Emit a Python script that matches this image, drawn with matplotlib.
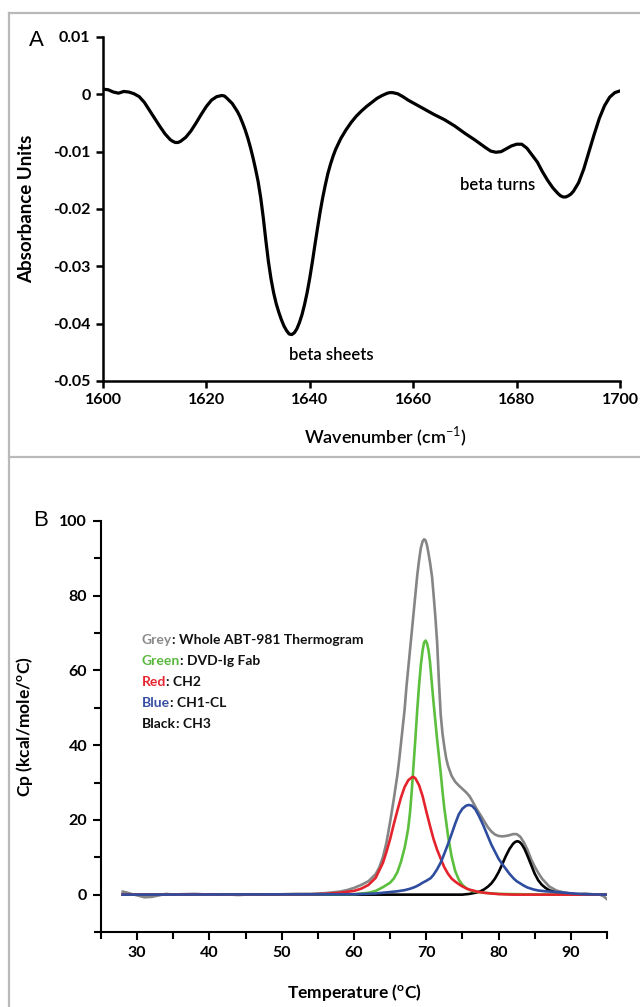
import matplotlib

matplotlib.use("Agg")

import matplotlib.pyplot as plt
from matplotlib.lines import Line2D
from matplotlib.ticker import MultipleLocator

plt.rcParams["font.family"] = ["Lato", "DejaVu Sans"]
plt.rcParams["mathtext.fontset"] = "custom"
plt.rcParams["mathtext.rm"] = "Lato"
plt.rcParams["mathtext.bf"] = "Lato:bold"

# FTIR spectrum (panel A)
wavenumber = [
    1600, 1601, 1602, 1603, 1604, 1605, 1606, 1607, 1608, 1609,
    1610, 1611, 1612, 1613, 1613.5, 1614, 1614.5, 1615, 1616, 1617,
    1618, 1619, 1620, 1621, 1622, 1622.5, 1623, 1623.5, 1624, 1625,
    1626, 1626.5, 1627, 1627.5, 1628, 1628.5, 1629, 1629.5, 1630, 1630.5,
    1631, 1631.5, 1632, 1632.5, 1633, 1633.5, 1634, 1634.5, 1635, 1635.5,
    1636, 1636.5, 1637, 1637.5, 1638, 1638.5, 1639, 1639.5, 1640, 1640.5,
    1641, 1641.5, 1642, 1642.5, 1643, 1643.5, 1644, 1644.5, 1645, 1646,
    1647, 1648, 1649, 1650, 1651, 1652, 1653, 1654, 1655, 1655.5,
    1656, 1657, 1658, 1659, 1660, 1662, 1664, 1666, 1668, 1670,
    1672, 1674, 1675, 1676, 1677, 1678, 1679, 1680, 1681, 1682,
    1683, 1684, 1685, 1686, 1687, 1688, 1688.5, 1689, 1689.5, 1690,
    1690.5, 1691, 1692, 1693, 1694, 1695, 1696, 1697, 1698, 1699,
    1700,
]
absorbance = [
    0.0009, 0.0008, 0.0004, 0.0002, 0.0005, 0.0004, 0.0001, -0.0004, -0.0014, -0.0028,
    -0.0042, -0.0056, -0.0069, -0.0079, -0.0082, -0.0084, -0.0084, -0.0082, -0.0075, -0.0064,
    -0.0050, -0.0035, -0.0021, -0.0010, -0.0004, -0.0003, -0.0002, -0.0003, -0.0007, -0.0016,
    -0.0030, -0.0039, -0.0050, -0.0062, -0.0076, -0.0092, -0.0110, -0.0130, -0.0152, -0.0180,
    -0.0215, -0.0255, -0.0292, -0.0322, -0.0346, -0.0365, -0.0380, -0.0393, -0.0404, -0.0412,
    -0.0418, -0.0419, -0.0416, -0.0409, -0.0398, -0.0384, -0.0366, -0.0345, -0.0320, -0.0292,
    -0.0262, -0.0233, -0.0205, -0.0180, -0.0158, -0.0138, -0.0122, -0.0108, -0.0096, -0.0077,
    -0.0062, -0.0049, -0.0038, -0.0029, -0.0021, -0.0014, -0.0007, -0.0002, 0.0002, 0.0003,
    0.0003, 0.0001, -0.0004, -0.0010, -0.0015, -0.0025, -0.0035, -0.0044, -0.0055, -0.0068,
    -0.0080, -0.0093, -0.0099, -0.0101, -0.0100, -0.0095, -0.0090, -0.0087, -0.0087, -0.0094,
    -0.0106, -0.0118, -0.0135, -0.0150, -0.0163, -0.0173, -0.0177, -0.0179, -0.0179, -0.0177,
    -0.0174, -0.0169, -0.0154, -0.0130, -0.0100, -0.0070, -0.0042, -0.0020, -0.0005, 0.0003,
    0.0006,
]

# DSC thermogram and its fitted transitions (panel B)
temp_whole = [
    28, 28.5, 29, 30, 31, 32, 33, 34, 35, 36, 38, 40, 42, 44, 46, 48, 50, 52, 54, 56,
    58, 59, 60, 61, 62, 63, 63.5, 64, 64.5, 65, 65.5, 66, 66.25, 66.5, 66.75, 67,
    67.25, 67.5, 67.75, 68, 68.25, 68.5, 68.75, 69, 69.25, 69.5, 69.7, 69.9, 70.1, 70.3,
    70.55, 70.8, 71, 71.25, 71.5, 71.75, 72, 72.25, 72.5, 72.75, 73, 73.5, 74, 74.5,
    75, 75.5, 76, 76.5, 77, 77.5, 78, 78.5, 79, 79.5, 80, 80.5, 81, 81.5, 82, 82.5,
    83, 83.5, 84, 84.5, 85, 85.5, 86, 87, 88, 89, 90, 91, 92, 93, 94, 94.5, 95,
]
cp_whole = [
    0.8, 0.6, 0.3, -0.2, -0.7, -0.6, -0.2, 0.2, 0.0, 0.1, 0.2, 0.0, 0.1, -0.1, 0.1, 0.0, 0.1, 0.2, 0.2, 0.4,
    0.8, 1.2, 1.8, 2.6, 3.6, 5.5, 7.3, 10.0, 14.0, 19.5, 25.5, 32.0, 36.0, 40.5, 45.0, 49.5,
    55.5, 60.5, 65.5, 70.5, 75.5, 80.5, 85.5, 89.5, 92.8, 94.6, 95.1, 94.8, 93.5, 91.4,
    88.5, 85.0, 80.5, 74.5, 67.5, 57.0, 48.0, 43.0, 39.5, 36.5, 34.5, 31.8, 30.2, 29.2,
    28.3, 27.4, 26.3, 24.6, 22.8, 21.3, 19.7, 18.1, 16.9, 16.1, 15.7, 15.6, 15.7, 15.9, 16.2, 16.2,
    15.5, 14.0, 12.0, 9.5, 7.5, 5.8, 4.3, 2.2, 1.1, 0.6, 0.3, 0.1, 0.3, 0.1, 0.0, -0.4, -1.2,
]

temp_fab = [
    28, 60, 62, 63, 64, 65, 65.5, 66, 66.5, 67, 67.25, 67.5, 67.75, 68, 68.25, 68.5, 68.75,
    69, 69.25, 69.5, 69.7, 69.9, 70.1, 70.3, 70.5, 70.75, 71, 71.25, 71.5, 71.75, 72, 72.25,
    72.5, 72.75, 73, 73.5, 74, 74.5, 75, 75.6, 76.5, 78, 80, 85, 95,
]
cp_fab = [
    0.0, 0.1, 0.5, 1.0, 2.0, 3.2, 4.3, 6.0, 8.8, 12.5, 15.0, 17.8, 22.0, 28.0, 35.0, 42.0, 49.5,
    56.0, 61.5, 65.5, 67.5, 68.0, 67.3, 65.5, 62.5, 57.0, 51.5, 46.5, 41.5, 37.0, 32.5, 27.5,
    23.0, 19.5, 15.8, 10.2, 6.3, 4.0, 2.6, 1.6, 0.9, 0.5, 0.2, 0.05, 0.0,
]

temp_ch2 = [
    28, 54, 56, 58, 60, 61, 62, 63, 64, 64.5, 65, 65.5, 66, 66.5, 67, 67.5, 68, 68.25,
    68.5, 69, 69.5, 70, 70.5, 71, 71.5, 72, 72.5, 73, 73.5, 74, 74.5, 75, 75.5, 76,
    76.5, 77, 78, 79, 80, 82, 95,
]
cp_ch2 = [
    0.0, 0.1, 0.2, 0.5, 1.0, 1.6, 2.6, 4.5, 8.5, 11.5, 14.9, 18.8, 22.5, 26.0, 28.8, 30.6, 31.4, 31.5,
    31.1, 29.3, 26.3, 22.3, 18.5, 14.9, 12.0, 9.6, 7.3, 5.6, 4.3, 3.5, 2.8, 2.2, 1.7, 1.3,
    1.1, 0.8, 0.5, 0.3, 0.15, 0.0, 0.0,
]

temp_ch1cl = [
    28, 60, 63, 65, 66, 67, 67.8, 68.5, 69, 69.5, 70, 70.6, 71, 71.5, 72, 72.4, 73, 73.5,
    74, 74.5, 75, 75.5, 75.9, 76.3, 76.8, 77.3, 77.9, 78.5, 79, 79.5, 80, 80.5, 81, 81.5,
    82.1, 82.5, 83, 83.5, 84, 84.8, 85.5, 86.5, 88, 90, 92, 95,
]
cp_ch1cl = [
    0.0, 0.1, 0.3, 0.7, 0.9, 1.2, 1.6, 2.1, 2.6, 3.2, 3.7, 4.4, 5.3, 6.8, 8.6, 10.5, 13.5, 16.2,
    19.0, 21.5, 23.0, 23.8, 24.0, 23.8, 22.8, 21.0, 18.5, 15.7, 13.4, 11.5, 9.6, 8.2, 6.9, 5.6,
    4.3, 3.6, 3.0, 2.4, 1.9, 1.4, 1.1, 0.9, 0.7, 0.35, 0.1, 0.0,
]

temp_ch3 = [
    28, 75, 76, 77, 77.5, 78, 78.5, 79, 79.5, 80, 80.5, 81, 81.5, 82, 82.3, 82.6, 82.9,
    83.2, 83.6, 84, 84.5, 85, 85.5, 86, 86.5, 87, 88, 89, 90, 95,
]
cp_ch3 = [
    0.0, 0.0, 0.2, 0.6, 0.9, 1.4, 2.1, 3.0, 4.3, 6.0, 8.1, 10.3, 12.2, 13.6, 14.1, 14.3, 14.1,
    13.5, 12.2, 10.4, 8.0, 5.6, 3.8, 2.6, 1.8, 1.2, 0.5, 0.2, 0.1, 0.0,
]

legend_rows = [
    ("Grey", "#8a8a8a", ": Whole ABT-981 Thermogram"),
    ("Green", "#5bb83f", ": DVD-Ig Fab"),
    ("Red", "#e62530", ": CH2"),
    ("Blue", "#3850a3", ": CH1-CL"),
    ("Black", "#111111", ": CH3"),
]

GREY = "#858585"
GREEN = "#5cbf3e"
RED = "#e5232c"
BLUE = "#2f4d9e"
FRAME = "#b9b9b9"


def style_axes(axis, spine_width):
    for side in ("top", "right"):
        axis.spines[side].set_visible(False)
    for side in ("left", "bottom"):
        axis.spines[side].set_linewidth(spine_width)
    axis.tick_params(which="both", direction="out", width=spine_width, labelsize=11.5)
    for label in axis.get_xticklabels() + axis.get_yticklabels():
        label.set_fontweight("bold")


fig = plt.figure(figsize=(6.4, 10.07), dpi=100)

# panel frame
fig.add_artist(Line2D([9 / 640, 1.0], [1 - 13 / 1007, 1 - 13 / 1007], color=FRAME, lw=1.6))
fig.add_artist(Line2D([9 / 640, 9 / 640], [0.0, 1 - 13 / 1007], color=FRAME, lw=1.6))
fig.add_artist(Line2D([9 / 640, 1.0], [1 - 457 / 1007, 1 - 457 / 1007], color=FRAME, lw=1.6))

# --- panel A ---
ax_a = fig.add_axes([103 / 640, 1 - 381 / 1007, 517 / 640, 344 / 1007])
ax_a.plot(wavenumber, absorbance, color="black", lw=2.3, solid_joinstyle="round")
ax_a.set_xlim(1600, 1700)
ax_a.set_ylim(-0.05, 0.01)
ax_a.set_xticks([1600, 1620, 1640, 1660, 1680, 1700])
ax_a.set_yticks([0.01, 0, -0.01, -0.02, -0.03, -0.04, -0.05])
ax_a.set_yticklabels(["0.01", "0", "-0.01", "-0.02", "-0.03", "-0.04", "-0.05"])
ax_a.tick_params(length=5, pad=4)
style_axes(ax_a, 1.8)
ax_a.set_ylabel("Absorbance Units", fontsize=13.5, fontweight="bold")
ax_a.yaxis.set_label_coords(-0.132, 0.5)
ax_a.set_xlabel("Wavenumber (cm$^{-1}$)", fontsize=13, fontweight="semibold")
ax_a.xaxis.set_label_coords(0.547, -0.128)
ax_a.text(1636, -0.0455, "beta sheets", fontsize=12, fontweight="semibold", va="center", ha="left")
ax_a.text(1669, -0.0158, "beta turns", fontsize=12, fontweight="semibold", va="center", ha="left")
fig.text(29 / 640, 1 - 41 / 1007, "A", fontsize=16, family="Liberation Sans", va="center")

# --- panel B ---
ax_b = fig.add_axes([101 / 640, 1 - 932 / 1007, 506 / 640, 411 / 1007])
line_kw = dict(lw=1.9, solid_joinstyle="round")
ax_b.plot(temp_whole, cp_whole, color=GREY, **line_kw)
ax_b.plot(temp_ch3, cp_ch3, color="black", **line_kw)
ax_b.plot(temp_fab, cp_fab, color=GREEN, **line_kw)
ax_b.plot(temp_ch2, cp_ch2, color=RED, **line_kw)
ax_b.plot(temp_ch1cl, cp_ch1cl, color=BLUE, **line_kw)
ax_b.set_xlim(25, 95)
ax_b.set_ylim(-10, 100)
ax_b.xaxis.set_major_locator(MultipleLocator(10))
ax_b.xaxis.set_minor_locator(MultipleLocator(5))
ax_b.yaxis.set_major_locator(MultipleLocator(20))
ax_b.yaxis.set_minor_locator(MultipleLocator(10))
ax_b.set_xticks([30, 40, 50, 60, 70, 80, 90])
ax_b.set_yticks([0, 20, 40, 60, 80, 100])
ax_b.tick_params(which="major", length=6, pad=4)
ax_b.tick_params(which="minor", length=5)
style_axes(ax_b, 1.5)
ax_b.set_ylabel(r"Cp (kcal/mole/$^{\mathbf{o}}$C)", fontsize=12.5, fontweight="bold")
ax_b.yaxis.set_label_coords(-0.130, 0.5)
ax_b.set_xlabel(r"Temperature ($^{\mathbf{o}}$C)", fontsize=12.5, fontweight="bold")
ax_b.xaxis.set_label_coords(0.5, -0.122)
fig.text(33 / 640, 1 - 520 / 1007, "B", fontsize=16, family="Liberation Sans", va="center")

for row, (word, color, rest) in enumerate(legend_rows):
    y_pos = 0.710 - row * 0.0511
    word_text = ax_b.text(0.081, y_pos, word, transform=ax_b.transAxes, color=color,
                          fontsize=10, fontweight="bold", va="center")
    ax_b.annotate(rest, xy=(1, 0.5), xycoords=word_text, va="center",
                  fontsize=10, fontweight="bold", color="#111111")

fig.savefig("out.png", dpi=100)
